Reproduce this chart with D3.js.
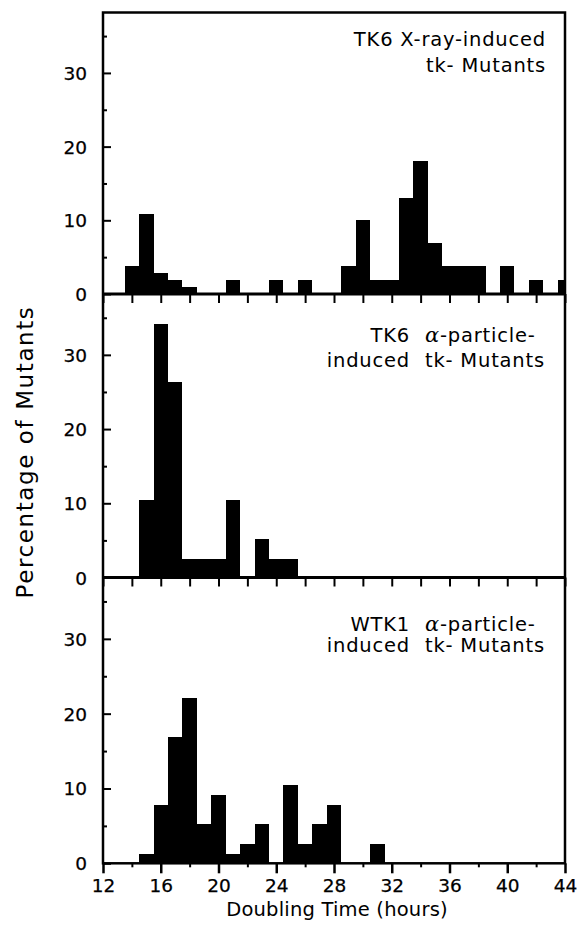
<!DOCTYPE html>
<html>
<head>
<meta charset="utf-8">
<script src="https://cdn.jsdelivr.net/npm/d3@7"></script>
<style>
  body { margin: 0; background: #fff; }
  text { font-family: "DejaVu Sans", sans-serif; fill: #000; }
</style>
</head>
<body>
<div id="chart"></div>
<script>
// bin centres (hours) and percentage of mutants, one pair per panel
let xrayHours = [14, 15, 16, 17, 18, 21, 24, 26, 29, 30, 31, 32, 33, 34, 35, 36, 37, 38, 40, 42, 44];
let xrayPct   = [3.8, 10.9, 2.9, 1.9, 0.9, 1.9, 1.9, 1.9, 3.8, 10.0, 1.9, 1.9, 13.0, 18.0, 6.9, 3.8, 3.8, 3.8, 3.8, 1.9, 1.9];

let tk6AlphaHours = [15, 16, 17, 18, 19, 20, 21, 23, 24, 25];
let tk6AlphaPct   = [10.4, 34.2, 26.3, 2.5, 2.5, 2.5, 10.4, 5.2, 2.5, 2.5];

let wtk1AlphaHours = [15, 16, 17, 18, 19, 20, 21, 22, 23, 25, 26, 27, 28, 31];
let wtk1AlphaPct   = [1.3, 7.8, 16.9, 22.1, 5.2, 9.1, 1.3, 2.6, 5.2, 10.4, 2.6, 5.2, 7.8, 2.6];

let yTickValues = [0, 10, 20, 30];
let yMinorValues = [5, 15, 25, 35];
let xLabelValues = [12, 16, 20, 24, 28, 32, 36, 40, 44];
let xMinorValues = [14, 18, 22, 26, 30, 34, 38, 42];

let panelTitles = [
    [["", "TK6 X-ray-induced"], ["", "tk- Mutants"]],
    [["TK6", "α-particle-"], ["induced", "tk- Mutants"]],
    [["WTK1", "α-particle-"], ["induced", "tk- Mutants"]]
];

let width = 581, height = 926;
let left = 103, right = 565;
let panelTops = [12.5, 294, 577.5];
let panelBottoms = [294, 577.5, 863.3];
let titleBase = [[46, 71.5], [341.5, 366.5], [631, 652]];

let svg = d3.select("#chart")
    .append("svg")
    .attr("width", width)
    .attr("height", height);

let x = d3.scaleLinear().domain([12, 44]).range([left, right]);

let series = [
    xrayHours.map((h, i) => ({ h: h, v: xrayPct[i] })),
    tk6AlphaHours.map((h, i) => ({ h: h, v: tk6AlphaPct[i] })),
    wtk1AlphaHours.map((h, i) => ({ h: h, v: wtk1AlphaPct[i] }))
];

svg.append("clipPath").attr("id", "plotclip")
    .append("rect")
    .attr("x", left).attr("y", panelTops[0])
    .attr("width", right - left).attr("height", panelBottoms[2] - panelTops[0]);

series.forEach(function (data, p) {
    let y = d3.scaleLinear().domain([0, 38.2]).range([panelBottoms[p], panelTops[p]]);
    let g = svg.append("g");

    g.append("g").attr("clip-path", "url(#plotclip)")
        .attr("shape-rendering", "crispEdges")
        .selectAll("rect")
        .data(data)
        .enter().append("rect")
        .attr("x", d => Math.round(x(d.h - 0.5)))
        .attr("width", d => Math.round(x(d.h + 0.5)) - Math.round(x(d.h - 0.5)))
        .attr("y", d => Math.round(y(d.v)))
        .attr("height", d => Math.round(y(0)) - Math.round(y(d.v)))
        .attr("fill", "#000");

    // y ticks pointing inward
    g.append("g")
        .attr("transform", "translate(" + left + ",0)")
        .call(d3.axisRight(y).tickValues(yTickValues).tickSize(8).tickFormat(""))
        .call(a => a.select(".domain").remove())
        .selectAll("line").attr("stroke-width", 2);
    g.append("g")
        .attr("transform", "translate(" + left + ",0)")
        .call(d3.axisRight(y).tickValues(yMinorValues).tickSize(4).tickFormat(""))
        .call(a => a.select(".domain").remove())
        .selectAll("line").attr("stroke-width", 2);

    // tick labels
    g.selectAll(".ylab")
        .data(yTickValues)
        .enter().append("text")
        .attr("class", "ylab")
        .attr("x", 87)
        .attr("y", d => y(d) + 7)
        .attr("text-anchor", "end")
        .attr("font-size", 18.5)
        .attr("stroke", "#000")
        .attr("stroke-width", 0.25)
        .text(d => d);

    // x ticks under each panel
    if (p < 2) {
        g.append("g")
            .attr("transform", "translate(0," + panelBottoms[p] + ")")
            .call(d3.axisBottom(x).tickValues(xLabelValues.concat(xMinorValues)).tickSize(9).tickFormat(""))
            .call(a => a.select(".domain").remove())
            .selectAll("line").attr("stroke-width", 2);
    } else {
        let ax = g.append("g")
            .attr("transform", "translate(0," + panelBottoms[p] + ")")
            .call(d3.axisBottom(x).tickValues(xLabelValues).tickSize(10).tickPadding(6))
            .call(a => a.select(".domain").remove());
        ax.selectAll("line").attr("stroke-width", 2.5);
        ax.selectAll("text")
            .attr("font-family", "DejaVu Sans")
            .attr("font-size", 18.5)
            .attr("fill", "#000")
            .attr("stroke", "#000")
            .attr("stroke-width", 0.25);
        g.append("g")
            .attr("transform", "translate(0," + panelBottoms[p] + ")")
            .call(d3.axisBottom(x).tickValues(xMinorValues).tickSize(4).tickFormat(""))
            .call(a => a.select(".domain").remove())
            .selectAll("line").attr("stroke-width", 2);
    }

    // panel titles: two columns
    panelTitles[p].forEach(function (line, k) {
        let yy = titleBase[p][k];
        if (line[0] === "") {
            g.append("text")
                .attr("x", 546).attr("y", yy)
                .attr("text-anchor", "end")
                .attr("font-size", 19.5)
                .attr("letter-spacing", 0.8)
                .text(line[1]);
        } else {
            g.append("text")
                .attr("x", 410).attr("y", yy)
                .attr("text-anchor", "end")
                .attr("font-size", 19.5)
                .attr("letter-spacing", 0.8)
                .text(line[0]);
            let t = g.append("text")
                .attr("x", 425).attr("y", yy)
                .attr("font-size", 19.5)
                .attr("letter-spacing", 0.8);
            if (line[1].charAt(0) === "α") {
                t.append("tspan")
                    .style("font-family", "'DejaVu Serif', serif")
                    .style("font-style", "italic")
                    .attr("font-size", 21)
                    .text("α");
                t.append("tspan").text(line[1].slice(1));
            } else {
                t.text(line[1]);
            }
        }
    });
});

// frame and panel dividers
svg.append("rect")
    .attr("x", left).attr("y", panelTops[0])
    .attr("width", right - left).attr("height", panelBottoms[2] - panelTops[0])
    .attr("fill", "none").attr("stroke", "#000").attr("stroke-width", 2.5);

svg.selectAll(".divider")
    .data(panelBottoms.slice(0, 2))
    .enter().append("line")
    .attr("class", "divider")
    .attr("x1", left).attr("x2", right)
    .attr("y1", d => d).attr("y2", d => d)
    .attr("stroke", "#000").attr("stroke-width", 3);

svg.append("text")
    .attr("x", (left + right) / 2 + 3)
    .attr("y", 916)
    .attr("text-anchor", "middle")
    .attr("font-size", 19.5)
    .attr("letter-spacing", 0.2)
    .text("Doubling Time (hours)");

svg.append("text")
    .attr("transform", "translate(33,452) rotate(-90)")
    .attr("text-anchor", "middle")
    .attr("font-size", 23)
    .attr("letter-spacing", 1.6)
    .text("Percentage of Mutants");
</script>
</body>
</html>
